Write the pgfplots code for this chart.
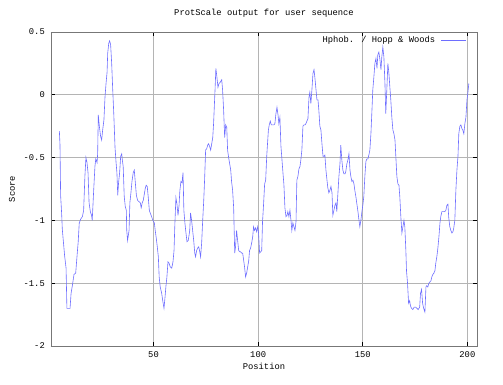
\documentclass[border=0pt]{standalone}
\usepackage{fontspec}
\setmainfont{Liberation Mono}
\usepackage{pgfplots}
\pgfplotsset{compat=1.18}
\definecolor{HWblue}{HTML}{6E6EFF}
\definecolor{GridGray}{HTML}{B4B4B4}
\definecolor{FrameGray}{HTML}{777777}

\begin{document}
\fontsize{8.8}{10}\selectfont
\begin{tikzpicture}
\begin{axis}[
  scale only axis, width=426pt, height=314pt,
  xmin=1, xmax=204.6, ymin=-2, ymax=0.5,
  xtick={50,100,150,200},
  ytick={-2,-1.5,-1,-0.5,0,0.5},
  /pgf/number format/assume math mode=true,
  tick label style={font=\fontsize{8.8}{10}\selectfont},
  xticklabel style={anchor=center, yshift=-9pt},
  yticklabel style={anchor=east, inner sep=0pt, xshift=-6pt},
  grid=major, grid style={GridGray, line width=0.6pt},
  axis line style={FrameGray, line width=0.7pt},
  tick align=inside, major tick length=4pt,
  tick style={black, line width=0.6pt},
  title={ProtScale output for user sequence},
  title style={at={(axis description cs:0.5,1)}, anchor=center, yshift=13pt},
  xlabel={Position},
  xlabel style={at={(axis description cs:0.5,0)}, anchor=center, yshift=-20.7pt},
  ylabel={Score},
  ylabel style={at={(axis description cs:0,0.5)}, anchor=center, yshift=39pt},
  legend plot pos=right,
  legend image code/.code={\draw[#1] (0pt,0pt) -- (25pt,0pt);},
  legend style={draw=none, fill=none, at={(axis description cs:0.9765,0.9745)},
    anchor=east, inner sep=0pt, column sep=6pt, nodes={inner sep=0pt},
    font=\fontsize{8.8}{10}\selectfont},
]
\addplot[HWblue, line width=0.6pt] coordinates {
(5.0,-0.29) (5.3,-0.40) (5.6,-0.80) (6.1,-0.95) (6.4,-1.07) (7.5,-1.28)
(8.2,-1.38) (8.6,-1.70) (9.4,-1.70) (10.1,-1.70) (10.6,-1.58) (11.2,-1.52)
(12.0,-1.43) (12.8,-1.42) (13.6,-1.25) (14.0,-1.17) (14.5,-1.02) (15.2,-0.99)
(16.0,-0.97) (16.6,-0.92) (17.2,-0.65) (17.7,-0.50) (18.2,-0.54) (18.7,-0.62)
(19.2,-0.86) (19.8,-0.93) (20.4,-0.96) (20.7,-1.00) (21.4,-0.76) (22.0,-0.57)
(22.4,-0.51) (23.0,-0.54) (23.3,-0.47) (23.6,-0.16) (24.1,-0.25) (24.7,-0.33)
(25.2,-0.36) (25.7,-0.28) (26.3,-0.20) (26.8,-0.02) (27.3,0.09) (27.8,0.18)
(28.1,0.33) (28.6,0.41) (29.0,0.43) (29.5,0.40) (30.0,0.25) (30.5,0.04)
(31.0,-0.15) (31.6,-0.42) (32.1,-0.54) (32.5,-0.62) (32.9,-0.80) (33.3,-0.70)
(33.8,-0.62) (34.3,-0.49) (34.8,-0.47) (35.1,-0.52) (35.5,-0.57) (36.0,-0.81)
(36.5,-0.89) (37.0,-0.92) (37.2,-1.08) (37.6,-1.16) (38.3,-1.08) (38.7,-0.86)
(39.2,-0.78) (39.7,-0.69) (40.3,-0.62) (40.8,-0.60) (41.3,-0.70) (41.8,-0.80)
(42.4,-0.84) (43.0,-0.85) (43.7,-0.86) (44.1,-0.90) (44.6,-0.86) (45.1,-0.84)
(45.6,-0.79) (46.1,-0.74) (46.5,-0.72) (47.0,-0.73) (47.5,-0.82) (48.0,-0.92)
(48.4,-0.94) (49.1,-0.97) (49.7,-1.00) (50.4,-1.02) (50.8,-1.08) (51.3,-1.14)
(51.8,-1.21) (52.3,-1.29) (52.7,-1.45) (53.2,-1.53) (53.9,-1.58) (54.5,-1.65)
(55.0,-1.70) (55.5,-1.61) (55.9,-1.53) (56.4,-1.45) (56.9,-1.33) (57.4,-1.34)
(58.0,-1.37) (58.7,-1.38) (59.3,-1.33) (59.8,-1.24) (60.2,-1.03) (60.7,-0.82)
(61.2,-0.87) (61.7,-0.96) (62.2,-0.88) (62.6,-0.76) (63.1,-0.69) (63.6,-0.70)
(64.1,-0.62) (64.5,-0.92) (65.0,-1.02) (65.5,-1.10) (66.0,-1.17) (66.6,-1.16)
(67.3,-1.08) (67.7,-0.94) (68.2,-1.00) (68.7,-1.08) (69.2,-1.16) (69.7,-1.26)
(70.1,-1.29) (70.6,-1.24) (71.1,-1.22) (71.6,-1.21) (72.0,-1.24) (72.5,-1.29)
(73.0,-1.18) (73.5,-1.00) (74.0,-0.84) (74.4,-0.68) (74.9,-0.44) (75.4,-0.43)
(75.9,-0.40) (76.3,-0.39) (76.8,-0.41) (77.3,-0.44) (77.8,-0.39) (78.3,-0.34)
(78.7,-0.23) (79.4,0.04) (79.8,0.21) (80.3,0.14) (80.8,0.06) (81.3,0.09)
(81.9,0.10) (82.6,0.12) (83.0,0.04) (83.5,-0.12) (84.0,-0.34) (84.5,-0.24)
(85.0,-0.26) (85.4,-0.44) (85.9,-0.50) (86.4,-0.55) (86.9,-0.60) (87.3,-0.69)
(87.8,-0.76) (88.3,-0.90) (88.8,-1.26) (89.2,-1.21) (89.7,-1.08) (90.2,-1.16)
(90.7,-1.24) (91.2,-1.25) (91.6,-1.25) (92.1,-1.26) (92.6,-1.26) (93.1,-1.32)
(93.5,-1.37) (94.0,-1.45) (94.5,-1.42) (95.0,-1.37) (95.5,-1.32) (95.9,-1.24)
(96.4,-1.22) (96.9,-1.18) (97.4,-1.13) (97.8,-1.05) (98.3,-1.08) (98.8,-1.06)
(99.3,-1.09) (99.8,-1.05) (100.2,-1.10) (100.7,-1.26) (101.2,-1.25) (101.7,-1.24)
(102.1,-1.01) (102.6,-0.87) (103.1,-0.71) (103.6,-0.68) (104.1,-0.49) (104.4,-0.41)
(104.9,-0.28) (105.3,-0.24) (105.8,-0.21) (106.3,-0.24) (107.0,-0.24) (107.5,-0.24)
(108.0,-0.23) (108.5,-0.15) (109.0,-0.10) (109.5,-0.16) (109.9,-0.23) (110.4,-0.18)
(110.9,-0.41) (111.4,-0.52) (111.9,-0.63) (112.3,-0.71) (112.8,-0.90) (113.3,-0.97)
(113.8,-0.96) (114.2,-0.93) (114.7,-0.97) (115.2,-0.92) (115.7,-1.00) (116.1,-1.08)
(116.6,-1.02) (117.1,-1.05) (117.6,-1.08) (118.1,-1.01) (118.5,-0.68) (119.0,-0.65)
(119.5,-0.59) (120.0,-0.57) (120.4,-0.52) (120.9,-0.44) (121.4,-0.25) (121.9,-0.24)
(122.4,-0.24) (122.8,-0.23) (123.3,-0.21) (123.8,-0.19) (124.3,-0.02) (124.7,0.02)
(125.2,-0.07) (125.7,0.04) (126.2,0.17) (126.7,0.20) (127.1,0.14) (127.6,0.05)
(128.1,-0.04) (128.6,-0.04) (129.0,-0.12) (129.5,-0.25) (130.0,-0.28) (130.5,-0.39)
(131.0,-0.49) (131.4,-0.49) (131.9,-0.48) (132.4,-0.60) (132.9,-0.68) (133.3,-0.74)
(133.8,-0.78) (134.3,-0.76) (134.8,-0.73) (135.3,-0.78) (135.7,-0.96) (136.2,-0.92)
(136.7,-0.88) (137.2,-0.86) (137.6,-0.93) (138.1,-0.79) (138.6,-0.65) (139.1,-0.55)
(139.5,-0.40) (140.0,-0.52) (140.5,-0.60) (141.0,-0.63) (141.5,-0.63) (141.9,-0.61)
(142.4,-0.55) (142.9,-0.52) (143.4,-0.47) (143.9,-0.60) (144.3,-0.65) (144.8,-0.69)
(145.3,-0.68) (145.8,-0.71) (146.2,-0.76) (146.7,-0.81) (147.2,-0.87) (147.7,-0.93)
(148.2,-1.00) (148.6,-1.05) (149.1,-1.00) (149.6,-0.93) (150.1,-0.87) (150.5,-0.81)
(151.0,-0.65) (151.5,-0.53) (152.0,-0.51) (152.5,-0.51) (152.9,-0.48) (153.4,-0.44)
(153.9,-0.31) (154.4,-0.12) (154.8,0.04) (155.3,0.14) (155.8,0.25) (156.3,0.29)
(156.8,0.21) (157.2,0.32) (157.7,0.34) (158.2,0.28) (158.7,0.20) (159.1,0.30)
(159.6,0.38) (160.1,0.30) (160.6,0.09) (161.0,-0.15) (161.5,0.04) (162.0,0.25)
(162.5,0.17) (163.0,0.05) (163.4,-0.04) (163.9,-0.18) (164.4,-0.28) (164.9,-0.31)
(165.4,-0.36) (165.8,-0.49) (166.3,-0.65) (166.8,-0.71) (167.3,-0.72) (167.7,-0.81)
(168.2,-0.97) (168.7,-1.10) (169.2,-1.05) (169.7,-1.00) (170.1,-1.05) (170.6,-1.24)
(170.9,-1.40) (171.4,-1.50) (171.9,-1.66) (172.4,-1.64) (172.8,-1.68) (173.3,-1.70)
(173.9,-1.71) (174.6,-1.69) (175.2,-1.69) (175.9,-1.70) (176.5,-1.71) (177.2,-1.69)
(177.6,-1.58) (178.1,-1.55) (178.6,-1.66) (179.1,-1.70) (179.7,-1.73) (180.2,-1.53)
(180.6,-1.52) (181.1,-1.53) (181.6,-1.50) (182.1,-1.49) (182.6,-1.48) (183.0,-1.45)
(183.5,-1.43) (184.0,-1.42) (184.5,-1.40) (184.9,-1.34) (185.4,-1.29) (185.9,-1.22)
(186.4,-1.13) (186.9,-1.02) (187.3,-0.97) (187.8,-0.93) (188.5,-0.93) (189.2,-0.93)
(189.7,-0.92) (190.2,-0.88) (190.7,-0.87) (191.1,-0.98) (191.6,-1.05) (192.1,-1.08)
(192.6,-1.10) (193.1,-1.09) (193.5,-1.06) (194.0,-1.00) (194.5,-0.76) (195.0,-0.60)
(195.5,-0.49) (195.9,-0.31) (196.4,-0.25) (196.9,-0.24) (197.4,-0.27) (197.8,-0.28)
(198.3,-0.31) (198.8,-0.23) (199.3,-0.18) (199.8,-0.04) (200.2,0.01) (200.7,0.09)
};
\addlegendentry{Hphob. / Hopp \& Woods}
\coordinate (bl) at (rel axis cs:0,0);
\end{axis}
\pgfresetboundingbox
\path[use as bounding box] ([shift={(-51pt,-39pt)}]bl) rectangle ([shift={(452pt,346pt)}]bl);
\end{tikzpicture}
\end{document}
